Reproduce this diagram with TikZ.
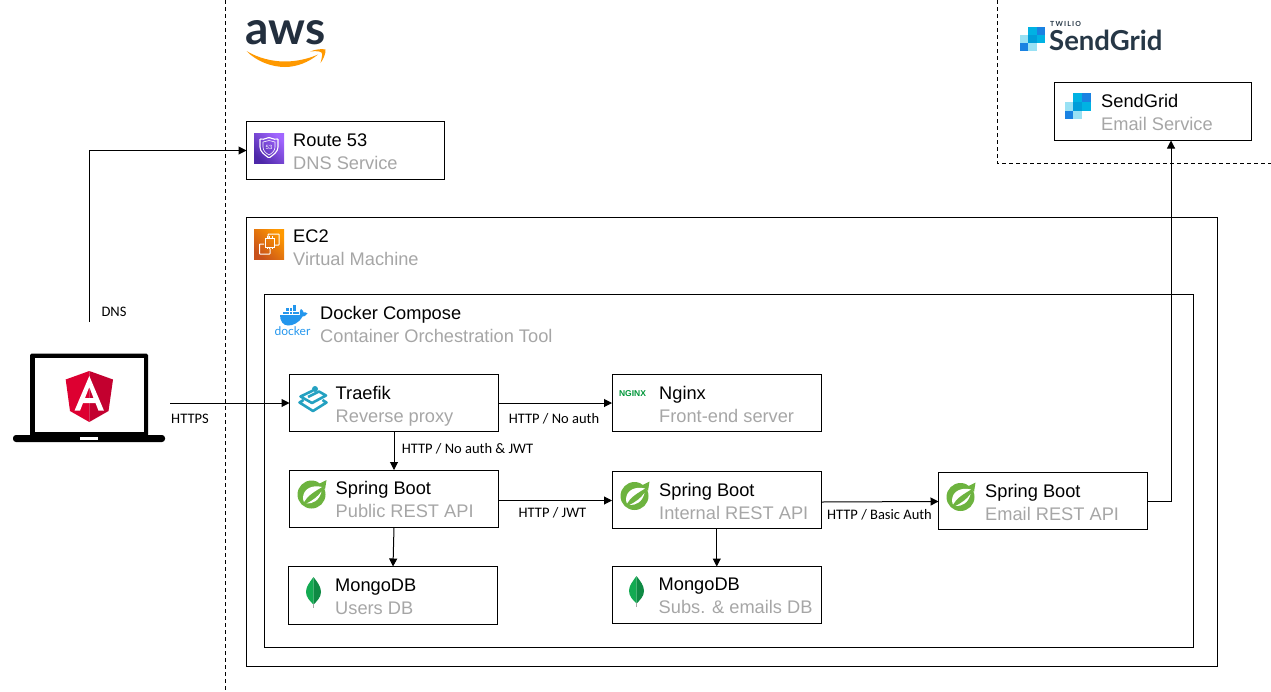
\documentclass[tikz,border=0pt]{standalone}
\usepackage{fontspec}
\setmainfont{Liberation Sans}
\newfontfamily\linkfont{Carlito}
\newfontfamily\logofont{Lato}
\usetikzlibrary{arrows.meta}

\definecolor{subgrey}{HTML}{A6A6A6}
\definecolor{awsdark}{HTML}{232F3E}
\definecolor{awsorange}{HTML}{FF9900}
\definecolor{griddark}{HTML}{263746}
\definecolor{gridblue}{HTML}{1A82E2}
\definecolor{gridmid}{HTML}{00B2E3}
\definecolor{gridteal}{HTML}{009DD9}
\definecolor{gridpale}{HTML}{99E1F4}
\definecolor{dockerblue}{HTML}{2396ED}
\definecolor{traefikblue}{HTML}{24A1C1}
\definecolor{springgreen}{HTML}{6DB33F}
\definecolor{mongolight}{HTML}{13AA52}
\definecolor{mongodark}{HTML}{0F8A44}
\definecolor{ngreen}{HTML}{009639}
\definecolor{routedark}{HTML}{4D27A8}
\definecolor{routelight}{HTML}{A166FF}
\definecolor{ecdark}{HTML}{C8511B}
\definecolor{ngred}{HTML}{DD0031}
\definecolor{ngdark}{HTML}{C3002F}

\tikzset{
  svcbox/.style={draw, line width=1pt, anchor=north west, inner sep=0pt, outer sep=0pt},
  svctxt/.style={anchor=west, align=left, inner sep=0pt, yshift=-4.5pt, font=\fontsize{18.25}{23}\selectfont,
    execute at begin node=\strut, execute at end node=\strut},
  linktxt/.style={inner sep=0pt, font=\linkfont\fontsize{14.5}{16}\selectfont},
  link/.style={line width=1pt, -{Triangle[length=8pt,width=8pt]}},
  border/.style={line width=1pt, dash pattern=on 4pt off 3pt},
  gridcell/.pic={
    \fill[gridmid] (8.67,0) rectangle (17.33,8.67);
    \fill[gridblue] (17.33,0) rectangle (26,8.67);
    \fill[gridpale] (0,8.67) rectangle (8.67,17.33);
    \fill[gridteal] (8.67,8.67) rectangle (17.33,17.33);
    \fill[gridmid] (17.33,8.67) rectangle (26,17.33);
    \fill[gridblue] (0,17.33) rectangle (8.67,26);
    \fill[gridpale] (8.67,17.33) rectangle (17.33,26);
  },
  springicon/.pic={
    \fill[springgreen] (0,0) circle (14pt);
    \fill[springgreen] (8,-11) -- (15,-14.5) -- (13.5,-5) -- cycle;
    \fill[white] (10.5,-7.5) .. controls (1,-10) and (-8,-6) .. (-8.5,3) .. controls (-8.5,5) and (-8,6.5) .. (-7.5,7.5) .. controls (-4,1) and (3,-3) .. (10.5,-7.5) -- cycle;
    \fill[white] (-5,9) .. controls (1,9.5) and (8,6) .. (10,-3) .. controls (6,2.5) and (1,6) .. (-5,9) -- cycle;
  },
  mongoicon/.pic={
    \fill[mongolight] (0,-15.5) .. controls (-4,-10) and (-7.5,-6) .. (-7.5,-0.5) .. controls (-7.5,5) and (-3,9) .. (0,12) -- cycle;
    \fill[mongodark] (0,-15.5) .. controls (4,-10) and (7.5,-6) .. (7.5,-0.5) .. controls (7.5,5) and (3,9) .. (0,12) -- cycle;
    \draw[line width=.8pt, subgrey] (0,11) -- (0,15);
  },
}

\begin{document}
\begin{tikzpicture}[x=1pt, y=-1pt]
\useasboundingbox (0,0) rectangle (1271,691);

% borders
\draw[border] (225.5,0) -- (225.5,691);
\draw[border] (997.5,0) -- (997.5,163.5) -- (1271,163.5);

% boxes
\node[svcbox, minimum width=198pt, minimum height=58pt] (route53) at (246.5,121.5) {};
\node[svcbox, minimum width=971pt, minimum height=449pt] (ectwo) at (246.5,217.5) {};
\node[svcbox, minimum width=929pt, minimum height=353pt] (compose) at (264.5,294.5) {};
\node[svcbox, minimum width=209pt, minimum height=57pt] (traefik) at (289.5,374.5) {};
\node[svcbox, minimum width=209.5pt, minimum height=57pt] (nginx) at (612,374.5) {};
\node[svcbox, minimum width=209pt, minimum height=57pt] (pubapi) at (289.5,470) {};
\node[svcbox, minimum width=209.5pt, minimum height=57pt] (intapi) at (612,471.5) {};
\node[svcbox, minimum width=209pt, minimum height=57pt] (emailapi) at (938.5,472.5) {};
\node[svcbox, minimum width=209pt, minimum height=57.5pt] (usersdb) at (288.5,566.5) {};
\node[svcbox, minimum width=209.5pt, minimum height=57pt] (subsdb) at (612,566.5) {};
\node[svcbox, minimum width=197pt, minimum height=58pt] (sendgrid) at (1054.5,82.5) {};

% box texts
\node[svctxt] (route53txt) at ([xshift=46.5pt]route53.west) {Route 53\\\textcolor{subgrey}{DNS Service}};
\node[svctxt] (ectwotxt) at (293,247) {EC2\\\textcolor{subgrey}{Virtual Machine}};
\node[svctxt] (composetxt) at (320,323.5) {Docker Compose\\\textcolor{subgrey}{Container Orchestration Tool}};
\node[svctxt] (traefiktxt) at ([xshift=46pt]traefik.west) {Traefik\\\textcolor{subgrey}{Reverse proxy}};
\node[svctxt] (nginxtxt) at ([xshift=47pt]nginx.west) {Nginx\\\textcolor{subgrey}{Front-end server}};
\node[svctxt] (pubapitxt) at ([xshift=46pt]pubapi.west) {Spring Boot\\\textcolor{subgrey}{Public REST API}};
\node[svctxt] (intapitxt) at ([xshift=47pt]intapi.west) {Spring Boot\\\textcolor{subgrey}{Internal REST API}};
\node[svctxt] (emailapitxt) at ([xshift=46.5pt]emailapi.west) {Spring Boot\\\textcolor{subgrey}{Email REST API}};
\node[svctxt] (usersdbtxt) at ([xshift=46.5pt]usersdb.west) {MongoDB\\\textcolor{subgrey}{Users DB}};
\node[svctxt] (subsdbtxt) at ([xshift=46.5pt]subsdb.west) {MongoDB\\\textcolor{subgrey}{Subs. \& emails DB}};
\node[svctxt] (sendgridtxt) at ([xshift=46.5pt]sendgrid.west) {SendGrid\\\textcolor{subgrey}{Email Service}};

% connectors
\coordinate (dnsstart) at (89.5,322);
\coordinate (httpsstart) at (170,403);
\draw[link] (dnsstart) |- (route53.west);
\draw[link] (httpsstart) -- (traefik.west);
\draw[link] (traefik.east) -- (nginx.west);
\draw[link] (traefik.south) -- (pubapi.north);
\draw[link] ([yshift=-2pt]pubapi.east) -- ([yshift=-.5pt]intapi.west);
\draw[link] ([yshift=-2pt]intapi.east) -- ([yshift=-.5pt]emailapi.west);
\draw[link] (pubapi.south) -- (usersdb.north);
\draw[link] (intapi.south) -- (subsdb.north);
\draw[link] (emailapi.east) -| ([xshift=18pt]sendgrid.south);

% connector labels
\node[linktxt] (dnstxt) at (114,312) {DNS};
\node[linktxt] (httpstxt) at (190,419) {HTTPS};
\node[linktxt] (noauthtxt) at (554,418.5) {HTTP / No auth};
\node[linktxt] (jwtauthtxt) at (467.5,448.5) {HTTP / No auth \& JWT};
\node[linktxt] (jwttxt) at (552.5,512.5) {HTTP / JWT};
\node[linktxt] (basictxt) at (879.5,514.5) {HTTP / Basic Auth};

% aws logo
\node[inner sep=0pt, anchor=base, text=awsdark, font=\logofont\bfseries\fontsize{46}{46}\selectfont] (awslogo) at (285.5,44) {aws};
\fill[awsorange] (246.5,51) .. controls (258,58) and (272,61.5) .. (285,61.5) .. controls (296,61.5) and (308,59) .. (318,54.5) .. controls (309,62) and (297,67) .. (285,67) .. controls (271,67) and (256,61) .. (246.5,51) -- cycle;
\fill[awsorange] (310,51.5) .. controls (315,49.5) and (322,48.5) .. (325.5,49.5) .. controls (326,53) and (323.5,59) .. (320.5,63) .. controls (321.5,59) and (323,54) .. (321.5,52.5) .. controls (320,51) and (315,51) .. (310,51.5) -- cycle;

% sendgrid logo
\pic[scale=.94] at (1020.3,26.7) {gridcell};
\node[inner sep=0pt, anchor=base west, text=griddark, font=\logofont\bfseries\fontsize{27.5}{28}\selectfont] (gridlogo) at (1049,50) {SendGrid};
\node[inner sep=0pt, anchor=base west, text=griddark, font=\logofont\bfseries\fontsize{7}{7}\selectfont] (twiliologo) at (1050,26) {T\,W\,I\,L\,I\,O};
\pic at (1064.7,93.3) {gridcell};

% route 53 icon
\shade[left color=routedark, right color=routelight, shading angle=135] (254,133) rectangle (284,163);
\draw[white, line width=1.1pt, rounded corners=1pt] (269,137.5) -- (275.5,139.5) -- (278,138.5) -- (278,146) .. controls (278,152) and (273,155) .. (269,158) .. controls (265,155) and (260,152) .. (260,146) -- (260,138.5) -- (262.5,139.5) -- cycle;
\draw[white, line width=.6pt] (269,140.5) -- (275,142) -- (275,147) .. controls (275,151) and (272,153) .. (269,155) .. controls (266,153) and (263,151) .. (263,147) -- (263,142) -- cycle;
\node[inner sep=0pt, text=white, font=\fontsize{6}{6}\selectfont] (routelogo) at (269,147) {53};

% ec2 icon
\shade[left color=ecdark, right color=awsorange, shading angle=135] (254,229) rectangle (284,259);
\draw[white, line width=1pt, rounded corners=.5pt] (268,238) -- (268,234) -- (279,234) -- (279,245) -- (275,245);
\draw[white, line width=1pt, rounded corners=.5pt] (264,244) -- (259.5,244) -- (259.5,254) -- (270,254) -- (270,248.5);
\draw[white, line width=1pt] (265,238) rectangle (274,247);
\foreach \i in {267,269.5,272} {
  \draw[white, line width=.5pt] (\i,236) -- (\i,238) (\i,247) -- (\i,249);
}

% docker icon
\fill[dockerblue] (280,315) -- (300,315) .. controls (299,312) and (300,310) .. (301,309) .. controls (303,310) and (303.5,311.5) .. (303.5,312.5) .. controls (305,312) and (306.5,312.5) .. (307.5,313.5) .. controls (306,316) and (304,316.5) .. (302.5,316.5) .. controls (299,323) and (293,325.5) .. (288,325.5) .. controls (283,325.5) and (280,321) .. (280,315) -- cycle;
\foreach \i in {283,286.3,289.6,292.9,296.2} {
  \fill[dockerblue] (\i,311.6) rectangle +(2.7,2.7);
}
\foreach \i in {286.3,289.6,292.9} {
  \fill[dockerblue] (\i,308.3) rectangle +(2.7,2.7);
}
\fill[dockerblue] (292.9,305) rectangle +(2.7,2.7);
\node[inner sep=0pt, anchor=base, text=dockerblue, font=\logofont\fontsize{12}{12}\selectfont] (dockerlogo) at (292.5,335) {docker};

% traefik icon
\draw[traefikblue, line width=2.6pt, line join=round] (303.5,400) -- (299.5,402.5) -- (313,411) -- (326.5,402.5) -- (322.5,400);
\draw[traefikblue, line width=2.6pt, line join=round] (313,390.5) -- (300.5,396.5) -- (312,403) -- (326,395.5) -- (319,391.5) -- (308,397);
\fill[traefikblue] (315,389) circle (3pt);

% nginx icon
\node[inner sep=0pt, text=ngreen, font=\bfseries\fontsize{8.5}{8.5}\selectfont] (nginxlogo) at (632.5,394) {NGINX};

% spring icons
\pic at (311.5,494.5) {springicon};
\pic at (634.5,496) {springicon};
\pic at (960.5,497) {springicon};

% mongodb icons
\pic at (313.5,592.5) {mongoicon};
\pic at (636.5,591.5) {mongoicon};

% laptop
\fill[black, rounded corners=1.5pt] (30,353.5) rectangle (148,436);
\fill[white] (35,358) rectangle (144,432);
\fill[black, rounded corners=3pt] (13,435) rectangle (165,442);
\fill[white] (80,437) rectangle (98,439.5);

% angular logo
\fill[ngred] (89.3,371) -- (65.7,379.5) -- (70,411) -- (89.3,422) -- cycle;
\fill[ngdark] (89.3,371) -- (113,379.5) -- (108.5,411) -- (89.3,422) -- cycle;
\fill[white, even odd rule] (89.3,376) -- (104,410.7) -- (98.5,410.7) -- (95.5,403) -- (83,403) -- (80,410.7) -- (74.5,410.7) -- cycle (89.3,387) -- (93.5,398) -- (85,398) -- cycle;

\end{tikzpicture}
\end{document}
